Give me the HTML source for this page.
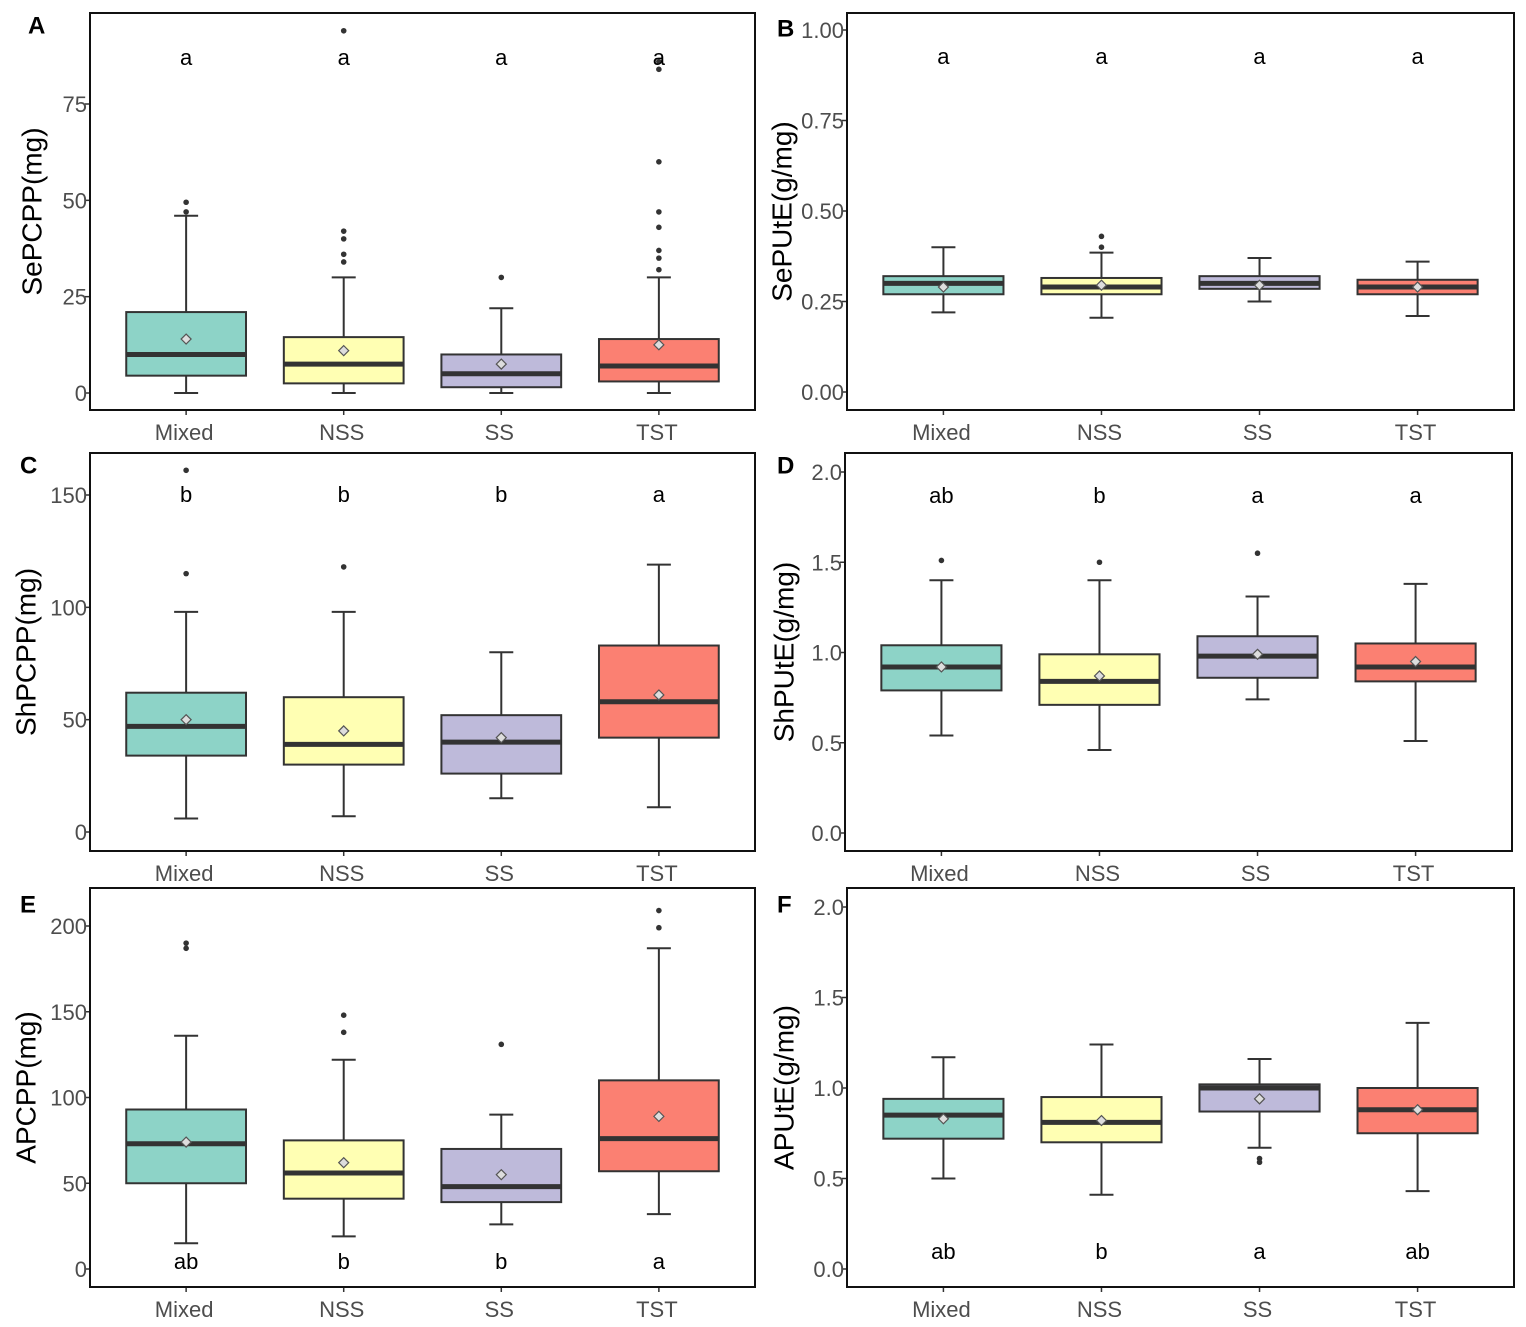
<!DOCTYPE html>
<html><head><meta charset="utf-8"><style>body{margin:0;background:#fff}svg{display:block}</style></head>
<body>
<svg id="fig" width="1526" height="1327" xmlns="http://www.w3.org/2000/svg" font-family="Liberation Sans, sans-serif"></svg>
<script>
const categories = ["Mixed","NSS","SS","TST"];
const colors = ["#8dd3c7","#ffffb3","#bebada","#fb8072"];
// each stat: [low whisker, q1, median, q3, high whisker, mean]
const statsA = [[0,4.5,10,21,46,14],[0,2.5,7.5,14.5,30,11],[0,1.5,5,10,22,7.5],[0,3,7,14,30,12.5]];
const outA = [[47,49.5],[34,36,40,42,94],[30],[32,35,37,43,47,60,84,86]];
const lettersA = ["a","a","a","a"];
const statsB = [[0.22,0.27,0.30,0.32,0.40,0.29],[0.205,0.27,0.29,0.315,0.385,0.295],[0.25,0.285,0.30,0.32,0.37,0.295],[0.21,0.27,0.29,0.31,0.36,0.29]];
const outB = [[],[0.40,0.43],[],[]];
const lettersB = ["a","a","a","a"];
const statsC = [[6,34,47,62,98,50],[7,30,39,60,98,45],[15,26,40,52,80,42],[11,42,58,83,119,61]];
const outC = [[115,161],[118],[],[]];
const lettersC = ["b","b","b","a"];
const statsD = [[0.54,0.79,0.92,1.04,1.40,0.92],[0.46,0.71,0.84,0.99,1.40,0.87],[0.74,0.86,0.98,1.09,1.31,0.99],[0.51,0.84,0.92,1.05,1.38,0.95]];
const outD = [[1.51],[1.50],[1.55],[]];
const lettersD = ["ab","b","a","a"];
const statsE = [[15,50,73,93,136,74],[19,41,56,75,122,62],[26,39,48,70,90,55],[32,57,76,110,187,89]];
const outE = [[187,190],[138,148],[131],[199,209]];
const lettersE = ["ab","b","b","a"];
const statsF = [[0.50,0.72,0.85,0.94,1.17,0.83],[0.41,0.70,0.81,0.95,1.24,0.82],[0.67,0.87,1.00,1.02,1.16,0.94],[0.43,0.75,0.88,1.00,1.36,0.88]];
const outF = [[],[],[0.59,0.61],[]];
const lettersF = ["ab","b","a","ab"];
const ticksA=["0","25","50","75"], ticksB=["0.00","0.25","0.50","0.75","1.00"], ticksC=["0","50","100","150"],
      ticksD=["0.0","0.5","1.0","1.5","2.0"], ticksE=["0","50","100","150","200"], ticksF=["0.0","0.5","1.0","1.5","2.0"];

const svg=document.getElementById('fig'), NS="http://www.w3.org/2000/svg";
function mk(tag,attrs,parent,text){const e=document.createElementNS(NS,tag);for(const k in attrs)e.setAttribute(k,attrs[k]);if(text!==undefined)e.textContent=text;parent.appendChild(e);return e;}

const panels=[
 {id:"A",x0:90,x1:755,y0:13,y1:410,v0:0,p0:393,v1:75,p1:104,ticks:ticksA,title:"SePCPP(mg)",stats:statsA,out:outA,letters:lettersA,ly:58,tx:34,lx:28,lyL:27},
 {id:"B",x0:847,x1:1514,y0:13,y1:410,v0:0,p0:392,v1:1,p1:30,ticks:ticksB,title:"SePUtE(g/mg)",stats:statsB,out:outB,letters:lettersB,ly:57,tx:784,lx:777,lyL:30},
 {id:"C",x0:90,x1:755,y0:453,y1:851,v0:0,p0:832,v1:150,p1:495,ticks:ticksC,title:"ShPCPP(mg)",stats:statsC,out:outC,letters:lettersC,ly:495,tx:28,lx:20,lyL:467},
 {id:"D",x0:845,x1:1512,y0:453,y1:851,v0:0,p0:833,v1:2,p1:472,ticks:ticksD,title:"ShPUtE(g/mg)",stats:statsD,out:outD,letters:lettersD,ly:496,tx:786,lx:777,lyL:467},
 {id:"E",x0:90,x1:755,y0:888,y1:1287,v0:0,p0:1269,v1:200,p1:926,ticks:ticksE,title:"APCPP(mg)",stats:statsE,out:outE,letters:lettersE,ly:1262,tx:28,lx:20,lyL:906},
 {id:"F",x0:847,x1:1514,y0:888,y1:1287,v0:0,p0:1269,v1:2,p1:907,ticks:ticksF,title:"APUtE(g/mg)",stats:statsF,out:outF,letters:lettersF,ly:1252,tx:786,lx:777,lyL:906}
];
panels.forEach(P=>{
  const g=mk('g',{},svg);
  
  
  const y=v=>P.p0+(v-P.v0)*(P.p1-P.p0)/(P.v1-P.v0);
  const w=P.x1-P.x0, step=w/4.22, xc=i=>P.x0+w/2+(i-1.5)*step, hw=step*0.38;
  const pl=mk('text',{x:P.lx,y:P.lyL,'font-size':24,'font-weight':'bold','dominant-baseline':'middle'},g,P.id);
  
  const nt=P.ticks.length;
  P.ticks.forEach((t,k)=>{
    const v=P.v0+(P.v1-P.v0)*k/(nt-1), yy=y(v);
    mk('line',{x1:P.x0-5,x2:P.x0,y1:yy,y2:yy,stroke:'#333','stroke-width':1.5},g);
    const tl=mk('text',{x:P.x0-3,y:yy+8,'text-anchor':'end','font-size':22,fill:'#4d4d4d'},g,t);
    
  });
  const ym=(P.y0+P.y1)/2;
  const at=mk('text',{x:P.tx,y:ym,'text-anchor':'middle','font-size':28,transform:`rotate(-90 ${P.tx} ${ym})`,'dominant-baseline':'middle'},g,P.title);
  
  categories.forEach((c,i)=>{
    const s=P.stats[i], x=xc(i);
    const bg=mk('g',{},g);
    
    
    mk('line',{x1:x,x2:x,y1:y(s[0]),y2:y(s[4]),stroke:'#333','stroke-width':2},bg);
    mk('line',{x1:x-12,x2:x+12,y1:y(s[0]),y2:y(s[0]),stroke:'#333','stroke-width':2},bg);
    mk('line',{x1:x-12,x2:x+12,y1:y(s[4]),y2:y(s[4]),stroke:'#333','stroke-width':2},bg);
    mk('rect',{x:x-hw,y:y(s[3]),width:2*hw,height:y(s[1])-y(s[3]),fill:colors[i],stroke:'#333','stroke-width':2},bg);
    mk('line',{x1:x-hw,x2:x+hw,y1:y(s[2]),y2:y(s[2]),stroke:'#333','stroke-width':5},bg);
    const my=y(s[5]);
    mk('path',{d:`M${x} ${my-5}L${x+5} ${my}L${x} ${my+5}L${x-5} ${my}Z`,fill:'#ddd',stroke:'#555','stroke-width':1.2},bg);
    P.out[i].forEach(o=>{const d=mk('circle',{cx:x,cy:y(o),r:2.8,fill:'#333'},bg);
      });
    const lt=mk('text',{x:x,y:P.ly+7,'text-anchor':'middle','font-size':22},g,P.letters[i]);
    
    mk('line',{x1:x,x2:x,y1:P.y1,y2:P.y1+5,stroke:'#333','stroke-width':1.5},g);
    const xl=mk('text',{x:x-2,y:P.y1+30,'text-anchor':'middle','font-size':22,fill:'#4d4d4d'},g,c);
    
  });
  const fr=mk('rect',{x:P.x0,y:P.y0,width:w,height:P.y1-P.y0,fill:'none',stroke:'#111','stroke-width':2},g);
  
});
</script>
</body></html>
